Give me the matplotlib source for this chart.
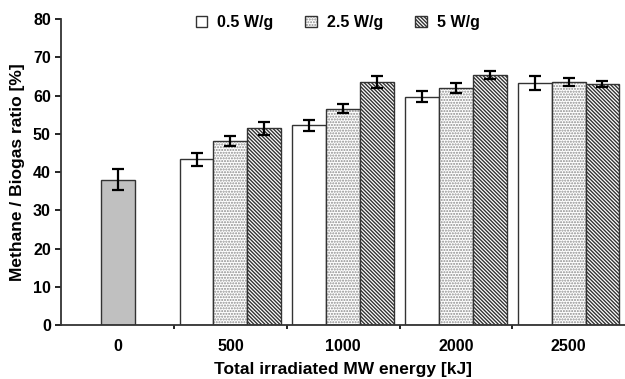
import matplotlib
matplotlib.use('Agg')
import matplotlib.pyplot as plt
from matplotlib.patches import Patch
import numpy as np

plt.rcParams['font.family'] = ['Liberation Sans', 'DejaVu Sans']
plt.rcParams['font.weight'] = 'bold'
plt.rcParams['hatch.linewidth'] = 1.0

categories = ['0', '500', '1000', '2000', '2500']
control_value = 38.0
control_err = 2.7

series_names = ['0.5 W/g', '2.5 W/g', '5 W/g']
# values for 500, 1000, 2000, 2500 kJ
low_vals = [43.3, 52.2, 59.7, 63.3]
low_errs = [1.7, 1.5, 1.5, 1.8]
mid_vals = [48.0, 56.6, 62.0, 63.6]
mid_errs = [1.3, 1.1, 1.3, 1.0]
high_vals = [51.4, 63.6, 65.4, 62.9]
high_errs = [1.8, 1.6, 1.0, 0.8]

fig = plt.figure(figsize=(6.25, 3.79), dpi=100)
ax = fig.add_axes([0.098, 0.142, 0.902, 0.808])

w = 0.3
x = np.arange(1, len(categories))
err_kw = dict(ecolor='black', capsize=4, elinewidth=1.6, capthick=1.6)

ax.bar(0, control_value, w, yerr=control_err, color='#c0c0c0',
       edgecolor='#333333', linewidth=1.0, error_kw=err_kw)

# hatch colour, hatch
styles = [
    ('white', None),
    ('#8c8c8c', '......'),
    ('#333333', '\\' * 9),
]
data = [(low_vals, low_errs), (mid_vals, mid_errs), (high_vals, high_errs)]
handles = []
for i, ((vals, errs), (hc, hatch)) in enumerate(zip(data, styles)):
    pos = x + (i - 1) * w
    # fill with hatch (hatch takes the edge colour)
    ax.bar(pos, vals, w, color='white', hatch=hatch, edgecolor=hc, linewidth=0)
    # outline and error bars
    ax.bar(pos, vals, w, yerr=errs, fill=False, edgecolor='#333333',
           linewidth=1.0, error_kw=err_kw)
    handles.append((Patch(facecolor='white', edgecolor=hc, hatch=hatch, linewidth=0),
                    Patch(fill=False, edgecolor='#333333', linewidth=1.0)))

ax.set_xlim(-0.5, 4.5)
ax.set_ylim(0, 80)
ax.set_yticks(range(0, 81, 10))
ax.set_xticks(range(len(categories)))
ax.set_xticklabels(categories)
ax.set_xticks([0.5, 1.5, 2.5, 3.5], minor=True)
ax.tick_params(axis='x', which='major', length=0, pad=10, labelsize=11.5)
ax.tick_params(axis='x', which='minor', length=3, width=1.2)
ax.tick_params(axis='y', length=4, width=1.2, labelsize=11.5)

for s in ['top', 'right']:
    ax.spines[s].set_visible(False)
for s in ['left', 'bottom']:
    ax.spines[s].set_linewidth(1.3)
    ax.spines[s].set_color('#333333')

ax.set_ylabel('Methane / Biogas ratio [%]', fontsize=12.5, fontweight='bold',
              labelpad=6)
ax.set_xlabel('Total irradiated MW energy [kJ]', fontsize=12.5,
              fontweight='bold', labelpad=6)

ax.legend(handles, series_names, loc='upper center', bbox_to_anchor=(0.49, 1.06),
          ncol=3, frameon=False, fontsize=11.5, handlelength=0.75,
          handleheight=0.75, columnspacing=2.0, handletextpad=0.6)

fig.savefig('out.png', dpi=100)
